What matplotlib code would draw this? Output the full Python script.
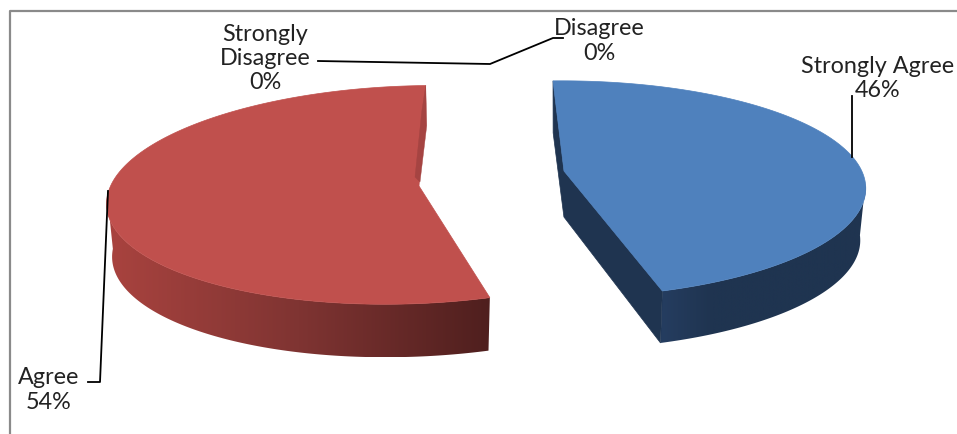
import numpy as np
import matplotlib
matplotlib.use("Agg")
import matplotlib.pyplot as plt
from matplotlib.colors import LinearSegmentedColormap
from matplotlib.patches import Polygon

categorias = ["Strongly Agree", "Agree", "Strongly\nDisagree", "Disagree"]
valores = [46, 54, 0, 0]

plt.rcParams["font.family"] = ["Lato", "DejaVu Sans"]

ANGULO_INICIAL = -2.0
K = 0.2  # perspectiva


def arco(t, f):
    r = np.radians(t)
    p = 1 / (1 + K * np.cos(r))
    x = f["a"] * np.sin(r) * p
    y = f["b"] * np.cos(r) * p
    return f["cx"] + x - f["s"] * y, f["cy"] - y


def base(x, y, f):
    return f["cx"] + (x - f["cx"]) * 0.982, y + f["prof"]


def fatia(ax, t0, t1, f, cor, cmap_lado, t_lado):
    t = np.linspace(t0, t1, 240)
    x, y = arco(t, f)
    xb, yb = base(x, y, f)

    # lado de fora com gradiente, recortado pelo contorno
    m = (t >= t_lado[0]) & (t <= t_lado[1])
    xs = np.r_[x[m], xb[m][::-1]]
    ys = np.r_[y[m], yb[m][::-1]]
    img = ax.imshow(
        np.linspace(0, 1, 256).reshape(1, -1),
        extent=[xs.min(), xs.max(), ys.max(), ys.min()],
        cmap=cmap_lado, aspect="auto", zorder=2,
    )
    img.set_clip_path(Polygon(np.c_[xs, ys], transform=ax.transData))
    ax.fill(
        np.r_[f["ax"], x],
        np.r_[f["ay"], y],
        color=cor, lw=0.5, zorder=4,
    )
    return x, y, xb, yb


fig, ax = plt.subplots(figsize=(9.57, 4.35), dpi=100)
ax.set_position([0, 0, 1, 1])

# moldura, so aparece em cima e na esquerda
ax.plot([10, 10, 957], [435, 12, 12], color="#8a8a8a", lw=1.6, zorder=1)

fim_azul = ANGULO_INICIAL + 360 * valores[0] / sum(valores)
fim_verm = fim_azul + 360 * valores[1] / sum(valores)

azul = dict(cx=560, cy=168.5, a=300, b=104, s=-0.02, prof=52, ax=564, ay=172)
verm = dict(cx=414.6, cy=174, a=296, b=105, s=-0.226, prof=53, ax=419, ay=187)

cmap_azul = LinearSegmentedColormap.from_list(
    "a", ["#253d60", "#1f3450", "#1f3450", "#1f3450", "#1f3450"]
)
cmap_verm = LinearSegmentedColormap.from_list("v", ["#a9433f", "#7f3432", "#4f1f1e"])

x, y, xb, yb = fatia(ax, ANGULO_INICIAL, fim_azul, azul, "#4f81bd", cmap_azul, (98, fim_azul))
# faces do corte da fatia azul
bx, by = base(azul["ax"], azul["ay"], azul)
ax.fill(
    [x[0], xb[0], bx, xb[-1], x[-1], azul["ax"]],
    [y[0], yb[0], by - 6, yb[-1], y[-1], azul["ay"]],
    color="#1f3450", lw=0.5, zorder=3,
)

x, y, xb, yb = fatia(ax, fim_azul, fim_verm, verm, "#c0504d", cmap_verm, (fim_azul, 258))
x0, y0 = x[-1], y[-1]
ax.fill(
    [x0, x0 + 1, verm["ax"] + 1, verm["ax"] - 4, x0 - 4],
    [y0, y0 + 40, verm["ay"] - 4, verm["ay"] - 9, y0 + 26],
    color="#a54442", lw=0.3, zorder=5,
)

# linhas de chamada
ax.plot([318, 490, 553, 563], [62, 65, 39, 39], color="black", lw=1.3, zorder=6)
ax.plot([88, 100, 108], [383, 383, 192], color="black", lw=1.3, zorder=6)
ax.plot([852, 852], [97, 158], color="black", lw=1.3, zorder=6)

posicoes = [(878, 78.5), (49, 390), (265, 58.5), (599, 41)]
for nome, v, (px, py) in zip(categorias, valores, posicoes):
    ax.text(
        px, py, f"{nome}\n{v}%",
        ha="center", va="center", fontsize=16.8, color="#222222",
        linespacing=1.2, zorder=7,
    )

ax.set_xlim(0, 957)
ax.set_ylim(435, 0)
ax.axis("off")

fig.savefig("out.png", dpi=100)
plt.close(fig)
